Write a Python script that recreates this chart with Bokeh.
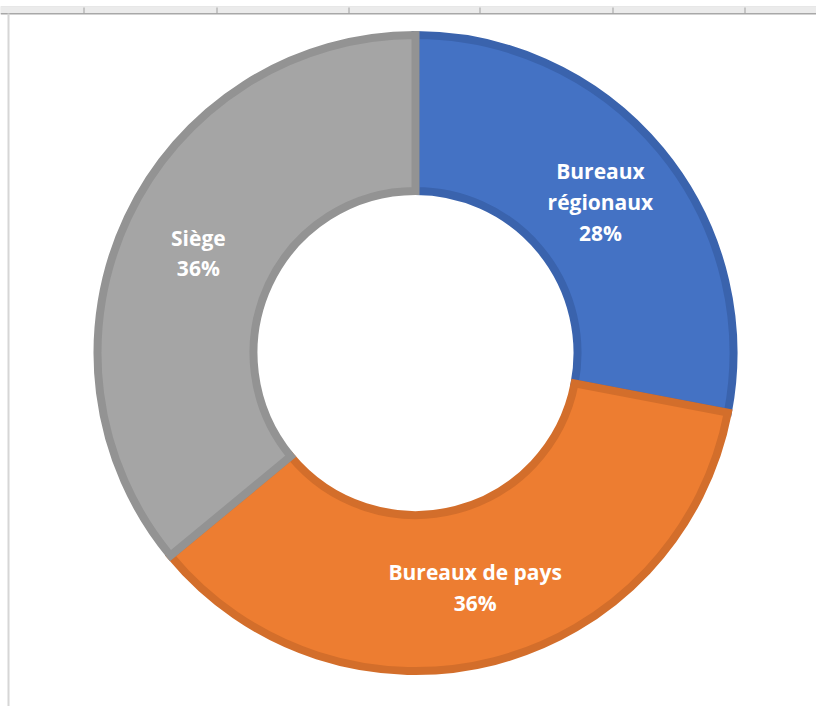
import numpy as np
from bokeh.plotting import figure
from bokeh.models import ColumnDataSource, Range1d, BoxAnnotation
from bokeh.core.properties import value
from bokeh.embed import file_html
from bokeh.resources import INLINE

# ---- data ----
categories = ["Bureaux\nrégionaux", "Bureaux de pays", "Siège"]
shares = [28, 36, 36]
fill_colors = ["#4472C4", "#ED7D31", "#A5A5A5"]
edge_colors = ["#3A63AD", "#D36E2B", "#939393"]

# ---- layout (pixels) ----
W, H = 816, 706
cx, cy = 415, H - 352.5
r_out_vis, r_in_vis = 322, 158
lw = 8
r_out = r_out_vis - lw / 2
r_in = r_in_vis + lw / 2

frac = np.array(shares, dtype=float) / sum(shares)
cum = np.concatenate([[0], np.cumsum(frac)])
start = np.pi / 2 - cum[:-1] * 2 * np.pi
end = np.pi / 2 - cum[1:] * 2 * np.pi
mid = (start + end) / 2
r_lab = (r_out_vis + r_in_vis) / 2

src = ColumnDataSource(dict(
    x=[cx] * len(shares), y=[cy] * len(shares),
    start=start, end=end, fill=fill_colors, edge=edge_colors,
    lx=cx + r_lab * np.cos(mid), ly=cy + r_lab * np.sin(mid) - 2,
    txt=[f"{c}\n{s}%" for c, s in zip(categories, shares)],
))

p = figure(width=W, height=H, output_backend="svg", toolbar_location=None,
           x_range=Range1d(0, W), y_range=Range1d(0, H), min_border=0,
           outline_line_color=None, background_fill_color="white")
p.axis.visible = False
p.xgrid.visible = False
p.ygrid.visible = False

# spreadsheet frame decoration
p.add_layout(BoxAnnotation(left=0, right=W, bottom=H - 13, top=H - 6,
                           fill_color="#EBEBEB", fill_alpha=1,
                           line_color="#C8C8C8", line_width=1))
p.add_layout(BoxAnnotation(left=0, right=W, bottom=H - 14, top=H - 12.5,
                           fill_color="#A8A8A8", fill_alpha=1, line_color=None))
tick_cols = [83, 216, 348, 479, 612, 744]
for t in tick_cols:
    p.add_layout(BoxAnnotation(left=t, right=t + 1, bottom=H - 13, top=H - 7,
                               fill_color="#A0A0A0", fill_alpha=1, line_color=None))
p.add_layout(BoxAnnotation(left=7, right=9, bottom=0, top=H - 13,
                           fill_color="#D6D6D6", fill_alpha=1, line_color=None))

p.annular_wedge(x="x", y="y", inner_radius=r_in, outer_radius=r_out,
                start_angle="start", end_angle="end", direction="clock",
                fill_color="fill", line_color="edge", line_width=lw,
                line_join="miter", source=src)

p.text(x="lx", y="ly", text="txt", source=src, text_color="white",
       text_font=value("Open Sans"), text_font_style="bold",
       text_font_size="21px", text_align="center", text_baseline="middle",
       text_line_height=1.09)

open("out.html", "w").write(file_html(p, INLINE))
